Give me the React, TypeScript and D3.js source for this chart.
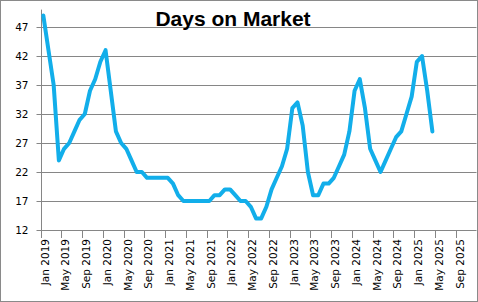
import React from "react";
import * as d3 from "d3";

const startMonth = new Date(2019, 0, 1);
const totalMonths = 84; // Jan 2019 .. Jan 2026
const tickStep = 4;
const daysOnMarket = [
  49, 43, 37, 24, 26, 27, 29, 31, 32, 36, 38, 41,
  43, 36, 29, 27, 26, 24, 22, 22, 21, 21, 21, 21,
  21, 20, 18, 17, 17, 17, 17, 17, 17, 18, 18, 19,
  19, 18, 17, 17, 16, 14, 14, 16, 19, 21, 23, 26,
  33, 34, 30, 22, 18, 18, 20, 20, 21, 23, 25, 29,
  36, 38, 33, 26, 24, 22, 24, 26, 28, 29, 32, 35,
  41, 42, 36, 29,
];
const yTicks = [12, 17, 22, 27, 32, 37, 42, 47];
const yDomain = [12, 50];
const title = "Days on Market";

const W = 478;
const H = 302;
const left = 40.7;
const right = 476.5;
const top = 9.6;
const bottom = 230;
const fontTick = "'DejaVu Sans', sans-serif";
const gridColor = "#868686";

export default function App() {
  const x = d3.scaleLinear().domain([0, totalMonths]).range([left, right]);
  const y = d3.scaleLinear().domain(yDomain).range([bottom, top]);
  const line = d3
    .line<number>()
    .x((_, i) => x(i + 0.5))
    .y((d) => y(d));
  const fmt = d3.timeFormat("%b %Y");
  const xTicks = d3.range(0, totalMonths + 1, tickStep);

  return (
    <svg
      width={W}
      height={H}
      style={{ position: "absolute", left: 0, top: 0, background: "#fff" }}
    >
      <rect x={0.5} y={0.5} width={W - 1} height={H - 1} fill="#fff" stroke="#8a8a8a" />
      {yTicks.map((t) => (
        <g key={t}>
          <line x1={36.5} x2={right} y1={Math.round(y(t)) + 0.5} y2={Math.round(y(t)) + 0.5} stroke={gridColor} strokeWidth={1} />
          <text
            x={28.5}
            y={y(t)}
            textAnchor="end"
            dominantBaseline="central"
            fontFamily={fontTick}
            fontSize={10.5}
            fill="#000"
          >
            {t}
          </text>
        </g>
      ))}
      <line x1={Math.round(left) + 0.5} x2={Math.round(left) + 0.5} y1={top} y2={bottom} stroke={gridColor} />
      {xTicks.map((m) => {
        const px = Math.round(x(m)) + 0.5;
        return (
          <g key={m}>
            <line x1={px} x2={px} y1={bottom} y2={bottom + 8} stroke={gridColor} />
            {m < totalMonths && (
              <text
                transform={`translate(${x(m) + 7.8},${bottom + 9}) rotate(-90)`}
                textAnchor="end"
                fontFamily={fontTick}
                fontSize={10.5}
                fill="#000"
              >
                {fmt(d3.timeMonth.offset(startMonth, m))}
              </text>
            )}
          </g>
        );
      })}
      <path
        d={line(daysOnMarket) ?? ""}
        fill="none"
        stroke="#12AEEA"
        strokeWidth={4}
        strokeLinejoin="round"
        strokeLinecap="round"
      />
      <text
        x={233}
        y={26}
        textAnchor="middle"
        fontFamily="'Liberation Sans', Arial, sans-serif"
        fontWeight="bold"
        fontSize={21}
        fill="#000"
      >
        {title}
      </text>
    </svg>
  );
}
